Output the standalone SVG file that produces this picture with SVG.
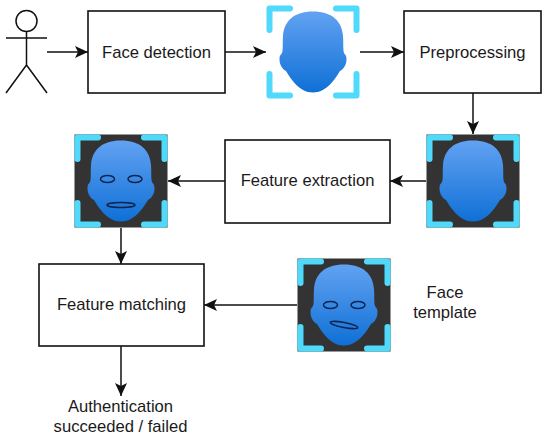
<svg xmlns="http://www.w3.org/2000/svg" xmlns:xlink="http://www.w3.org/1999/xlink" width="550" height="440" viewBox="0 0 550 440">
<style>
.box{fill:#fff;stroke:#111;stroke-width:1.6}
.t{font-family:"Liberation Sans",Arial,sans-serif;font-size:16.6px;fill:#1a1a1a;text-anchor:middle}
.c{fill:none;stroke:#111;stroke-width:1.5}
.br{fill:none;stroke:#4fd9fb;stroke-width:6;stroke-linejoin:round;stroke-linecap:round}
.panel{fill:#333}
.o{fill:none;stroke:#0d2550;stroke-width:1.5}
</style>
<defs>
<linearGradient id="g" x1="0" y1="0" x2="0" y2="1"><stop offset="0" stop-color="#62a2f2"/><stop offset="1" stop-color="#0f70d6"/></linearGradient>
<marker id="a" markerUnits="userSpaceOnUse" markerWidth="14" markerHeight="14" refX="13" refY="7" orient="auto"><path d="M0,1 L13,7 L0,13 L3,7Z" fill="#111"/></marker>
<path id="face" fill="url(#g)" d="M0,-40.500C19,-40.500 29,-31 30,-16C30.500,-10 30,-6 30.500,-1C31,3 33.500,2 33.500,7C33.500,13 30.500,17 27,19C22,27 14,40.500 0,40.500C-14,40.500 -22,27 -27,19C-30.500,17 -33.500,13 -33.500,7C-33.500,2 -31,3 -30.500,-1C-30,-6 -30.500,-10 -30,-16C-29,-31 -19,-40.500 0,-40.500Z"/>
<path id="brackets" class="br" d="M-43.500,-22V-43.500H-23M23,-43.500H43.500V-22M43.500,22V43.500H23M-23,43.500H-43.500V22"/>
</defs>
<g id="connectors">
<path class="c" marker-end="url(#a)" d="M47,52H88"/>
<path class="c" marker-end="url(#a)" d="M225,52H266"/>
<path class="c" marker-end="url(#a)" d="M360,52H404"/>
<path class="c" marker-end="url(#a)" d="M473,93V134"/>
<path class="c" marker-end="url(#a)" d="M426,181H390"/>
<path class="c" marker-end="url(#a)" d="M225,181H168"/>
<path class="c" marker-end="url(#a)" d="M121,228V264"/>
<path class="c" marker-end="url(#a)" d="M297,305H204"/>
<path class="c" marker-end="url(#a)" d="M121,346V396"/>
</g>
<g id="person" fill="none" stroke="#111" stroke-width="1.5">
<circle cx="26.500" cy="21" r="10.500"/>
<path d="M26.500,31.500V65M6,38H47M26.500,65L6,93M26.500,65L47,93"/>
</g>
<g id="face-detection"><rect class="box" x="88" y="11" width="137" height="82"/><text class="t" x="156.500" y="58">Face detection</text></g>
<g id="face-raw" transform="translate(313,52)"><use xlink:href="#face" href="#face"/><use xlink:href="#brackets" href="#brackets"/></g>
<g id="preprocessing"><rect class="box" x="404" y="11" width="137" height="82"/><text class="t" x="472.500" y="58">Preprocessing</text></g>
<g id="face-preprocessed" transform="translate(473,181)"><rect class="panel" x="-46.500" y="-46.500" width="93" height="93"/><use xlink:href="#face" href="#face"/><use xlink:href="#brackets" href="#brackets"/></g>
<g id="feature-extraction"><rect class="box" x="225" y="140" width="165" height="83"/><text class="t" x="307.500" y="186">Feature extraction</text></g>
<g id="face-features" transform="translate(121,181)"><rect class="panel" x="-46.500" y="-46.500" width="93" height="93"/><use xlink:href="#face" href="#face"/><use xlink:href="#brackets" href="#brackets"/><ellipse class="o" cx="-13.500" cy="-2" rx="7" ry="3.500"/><ellipse class="o" cx="14" cy="-2" rx="7" ry="3.500"/><ellipse class="o" cx="0" cy="24" rx="14" ry="2.500"/></g>
<g id="feature-matching"><rect class="box" x="39" y="264" width="165" height="82"/><text class="t" x="121.500" y="310">Feature matching</text></g>
<g id="face-template" transform="translate(344,305)"><rect class="panel" x="-46.500" y="-46.500" width="93" height="93"/><use xlink:href="#face" href="#face"/><use xlink:href="#brackets" href="#brackets"/><ellipse class="o" cx="-13.500" cy="0" rx="7" ry="3.500"/><ellipse class="o" cx="14" cy="0" rx="7" ry="3.500"/><ellipse class="o" cx="0" cy="20" rx="14" ry="2.500" transform="rotate(11 0 20)"/></g>
<g id="template-label"><text class="t" x="445" y="297.500">Face</text><text class="t" x="445" y="318">template</text></g>
<g id="result-label"><text class="t" x="120.500" y="411.500">Authentication</text><text class="t" x="120.500" y="432">succeeded / failed</text></g>
</svg>
